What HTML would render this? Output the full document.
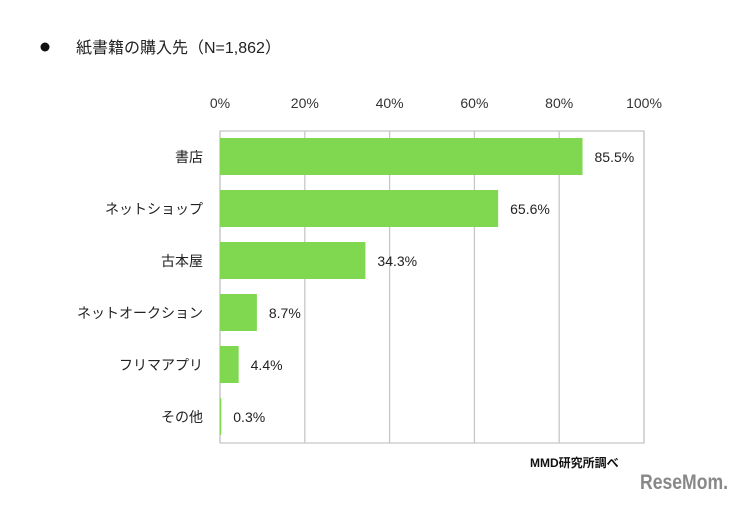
<!DOCTYPE html>
<html><head><meta charset="utf-8"><style>
body{margin:0;background:#fff;width:747px;height:503px;overflow:hidden;font-family:"Liberation Sans","Noto Sans CJK JP",sans-serif;}
svg text{font-family:"Liberation Sans","Noto Sans CJK JP",sans-serif;}
</style></head><body>
<svg id="chart" width="747" height="503">
<circle cx="45" cy="47" r="4.5" fill="#111"/>
<text x="76" y="53" font-size="16" fill="#222">紙書籍の購入先（N=1,862）</text>
<text x="530" y="467" font-size="12" font-weight="bold" fill="#111">MMD研究所調べ</text>
<text x="640" y="489" font-size="21" font-weight="bold" fill="#888" textLength="88" lengthAdjust="spacingAndGlyphs">ReseMom.</text>
</svg>
<script>
const categories=["書店","ネットショップ","古本屋","ネットオークション","フリマアプリ","その他"];
const values=[85.5,65.6,34.3,8.7,4.4,0.3];
const ticks=[0,20,40,60,80,100];
const svg=document.getElementById('chart');
const NS='http://www.w3.org/2000/svg';
const L=220,R=644,T=131,B=443;
const x=v=>L+(R-L)*v/100;
const band=(B-T)/categories.length;
function mk(tag,attrs){const e=document.createElementNS(NS,tag);for(const k in attrs)e.setAttribute(k,attrs[k]);svg.appendChild(e);return e;}
ticks.forEach(t=>{
  const g=mk('line',{x1:x(t),x2:x(t),y1:T,y2:B,stroke:'#c8c8c8','stroke-width':1.3});
  
  
  const lb=mk('text',{x:x(t),y:108,'font-size':14,fill:'#333','text-anchor':'middle'});
  lb.textContent=t+'%';
  
  
});
const fr=mk('rect',{x:L,y:T,width:R-L,height:B-T,fill:'none',stroke:'#c8c8c8','stroke-width':1.3});


categories.forEach((c,i)=>{
  const y0=T+band*i+7;
  const b=mk('rect',{x:L,y:y0,width:x(values[i])-L,height:37,fill:'#80d850'});
  
  
  const cl=mk('text',{x:203,y:y0+24,'font-size':14,fill:'#222','text-anchor':'end'});
  cl.textContent=c;
  
  
  const vl=mk('text',{x:x(values[i])+12,y:y0+24,'font-size':14,fill:'#222'});
  vl.textContent=values[i].toFixed(1)+'%';
  
  
});
</script>
</body></html>
